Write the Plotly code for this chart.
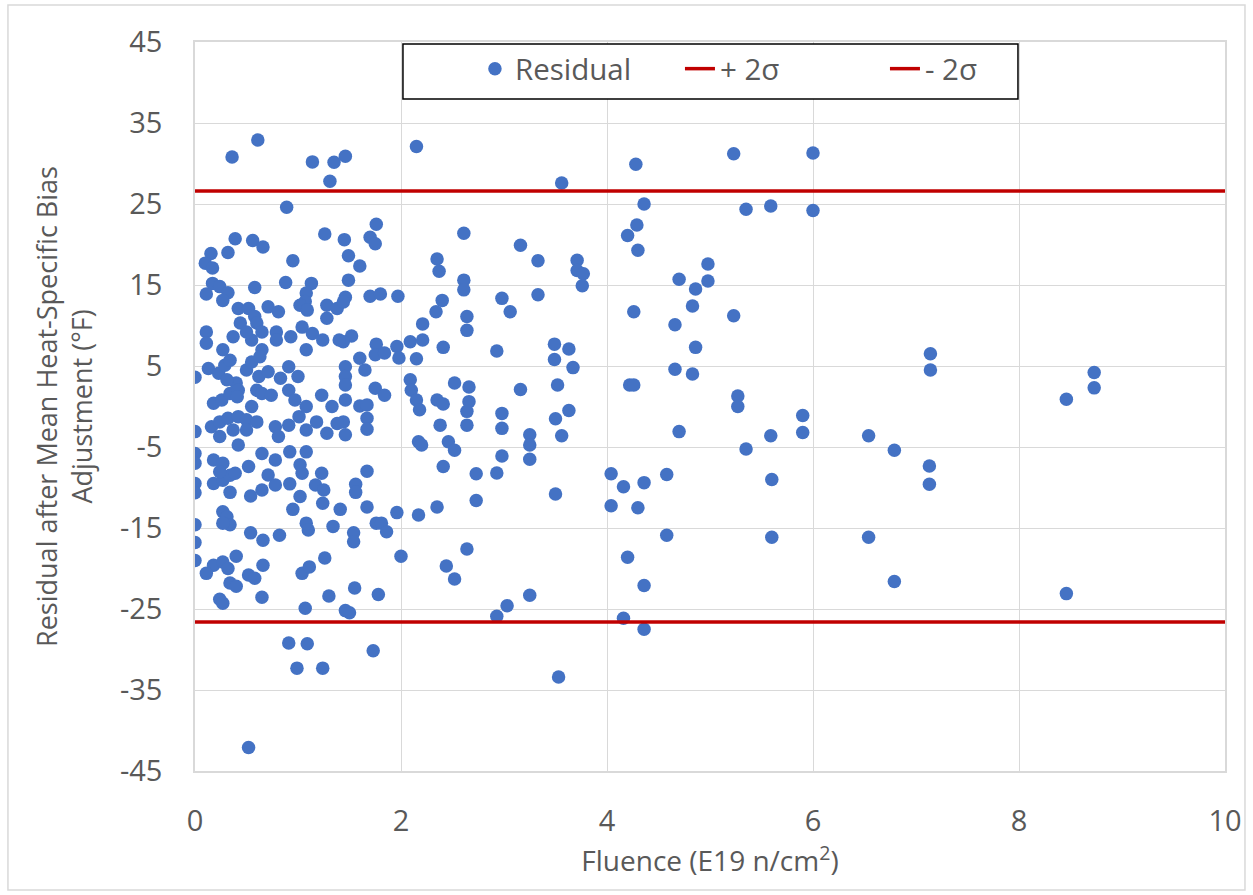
import plotly.graph_objects as go

# Residual data: fluence (E19 n/cm^2) and residual (°F)
fluence = [
    # sparse region
    3.56, 4.28, 5.23, 6.00, 4.36, 5.35, 5.59, 6.00, 4.29, 4.20, 4.30, 3.16, 3.33, 3.71, 3.71, 3.77, 3.76, 3.33, 3.06,
    4.98, 4.70, 4.98, 4.86, 4.83, 4.26, 4.66, 5.23, 3.49, 3.63, 3.49, 3.67, 3.52, 3.16, 4.86, 4.66, 4.83, 4.22, 4.26,
    5.27, 5.27, 5.90, 5.90, 3.50, 3.63, 3.25, 3.56, 4.70, 5.59, 3.25, 3.25, 5.35, 3.50, 4.04, 4.16, 4.36, 4.58, 4.04,
    4.30, 5.60, 4.58, 5.60, 4.20, 4.36, 3.25, 3.03, 4.16, 4.36, 3.53,
    7.14, 7.14, 8.73, 8.73, 8.46, 6.54, 6.79, 7.13, 7.13, 6.54, 6.79, 8.46,
    # upper-left
    0.36, 0.61, 1.14, 1.35, 1.46, 1.31, 0.89, 0.39, 0.56, 0.66, 0.155, 0.32, 0.10, 0.17, 0.95, 1.26, 1.45, 1.49,
    0.17, 0.24, 0.32, 0.11, 0.58, 0.88, 1.13, 1.08, 1.49,
    2.15, 1.76, 1.70, 1.75, 1.60, 2.61, 2.35, 2.37, 2.61, 2.61, 2.98, 1.46, 1.70, 1.80, 1.97, 2.40,
    # middle band 1.4-3
    2.34, 2.64, 2.64, 2.21, 1.52, 1.44, 1.76, 1.75, 1.84, 1.96, 1.98, 2.09, 2.21, 2.15, 2.41, 2.93, 1.60, 1.46, 1.65,
    1.46, 1.46, 2.09, 2.10, 2.15, 2.18, 1.75, 1.84, 2.52, 2.66, 1.46, 1.60, 1.67, 1.67, 1.67, 2.35, 2.41, 2.66, 2.64,
    2.64, 2.98, 2.98, 1.44, 1.46, 2.38, 2.17, 2.20, 2.46, 2.52, 2.98, 1.67, 2.41, 2.73, 2.93,
    # lower band 1.4-3
    1.56, 1.56, 1.41, 1.67, 2.73, 2.35, 1.96, 2.17, 1.76, 1.81, 1.86, 1.54, 1.54, 2.00, 2.64, 2.44, 2.52, 1.55, 1.78,
    1.46, 1.50, 2.93, 1.73,
    # lower-left
    0.00, 0.00, 0.18, 0.27, 0.34, 0.39, 0.34, 0.54, 0.65, 0.78, 0.92, 0.71, 1.02, 0.95, 1.17, 1.25, 1.24, 1.23, 1.04,
    0.27, 0.31, 0.34, 0.27, 0.00, 0.00, 0.00, 0.54, 0.66, 0.82, 1.08, 1.10, 1.34, 0.18, 0.27, 0.32, 0.40, 0.11, 0.52,
    0.58, 0.66, 0.34, 0.40, 0.24, 0.27, 0.65, 1.04, 1.11, 1.26, 1.30, 1.07, 0.91, 1.09, 0.99, 1.24, 0.52,
    # dense centre-left
    0.27, 1.07, 1.02,
    0.42, 0.52, 0.58, 0.71, 0.81, 0.44, 0.60, 1.09, 1.28, 1.38, 1.28, 1.44,
    0.11, 0.11, 0.37, 0.27, 0.55, 0.65, 0.79, 0.79, 0.93, 1.04, 1.14, 1.24, 1.40, 1.08, 0.65, 0.50,
    0.00, 0.13, 0.23, 0.29, 0.34, 0.50, 0.55, 0.63, 0.62, 0.71, 0.83, 0.91, 1.00, 0.40, 0.31,
    0.18, 0.26, 0.34, 0.42, 0.60, 0.65, 0.74, 0.91, 0.97, 1.08, 1.23, 1.33, 0.55, 0.41,
    0.00, 0.16, 0.24, 0.32, 0.42, 0.50, 0.60, 0.24, 0.37, 0.50, 0.78, 0.81, 0.91, 1.01, 1.08, 1.18, 1.28, 1.38,
    0.00, 0.00, 0.18, 0.27, 0.42, 0.52, 0.65, 0.78, 0.92, 1.08, 1.02, 0.24,
]
residual = [
    # sparse region
    27.6, 29.9, 31.2, 31.3, 25.0, 24.35, 24.75, 24.2, 22.4, 21.1, 19.3, 19.9, 18.0, 18.05, 16.8, 16.4, 14.9, 13.8, 11.7,
    17.6, 15.7, 15.5, 14.5, 12.4, 11.7, 10.1, 11.2, 7.7, 7.1, 5.8, 4.8, 2.65, 2.1, 7.3, 4.6, 4.0, 2.65, 2.65,
    1.3, 0.0, -1.1, -3.2, -1.5, -0.5, -3.5, -3.6, -3.1, -3.6, -4.75, -6.5, -5.25, -10.8, -8.3, -9.9, -9.4, -8.4, -12.25,
    -12.5, -9.0, -15.9, -16.15, -18.6, -22.1, -23.3, -24.6, -26.15, -27.5, -33.4,
    6.5, 4.5, 4.2, 2.3, 0.9, -3.6, -5.4, -7.35, -9.6, -16.15, -21.6, -23.1,
    # upper-left
    30.8, 32.9, 30.2, 30.15, 30.9, 27.8, 24.6, 20.7, 20.5, 19.7, 18.9, 19.0, 17.7, 17.1, 18.0, 21.3, 20.6, 18.6,
    15.2, 14.8, 14.05, 13.9, 14.7, 15.3, 15.2, 14.0, 15.6,
    32.1, 22.5, 20.9, 20.1, 17.35, 21.4, 18.2, 16.7, 15.6, 14.4, 13.35, 13.5, 13.6, 13.9, 13.6, 13.1,
    # middle band 1.4-3
    11.7, 11.1, 9.4, 10.2, 8.7, 8.0, 7.7, 6.4, 6.6, 7.4, 6.0, 8.0, 8.2, 5.9, 7.3, 6.85, 5.95, 4.9, 4.5,
    3.7, 2.65, 3.3, 2.0, 0.8, -0.4, 2.25, 1.4, 2.9, 2.4, 0.8, 0.05, 0.2, -1.45, -2.8, 0.8, 0.3, 0.6, -0.6,
    -2.3, -0.85, -2.7, -1.9, -3.5, -2.3, -4.35, -4.75, -4.35, -5.4, -6.1, -8.0, -7.4, -8.3, -8.2,
    # lower band 1.4-3
    -9.6, -10.6, -12.7, -12.4, -11.6, -12.4, -13.1, -13.4, -14.4, -14.4, -15.45, -15.6, -16.7, -18.5, -17.6, -19.7, -21.3, -22.4, -23.2,
    -25.2, -25.45, -25.9, -30.15,
    # lower-left
    -9.5, -10.65, -9.5, -9.1, -8.5, -8.25, -10.6, -11.05, -10.3, -9.7, -9.55, -8.45, -11.1, -12.7, -9.7, -10.3, -11.95, -8.25, -8.25,
    -13.0, -13.6, -14.6, -14.4, -14.6, -16.8, -19.0, -15.6, -16.5, -15.9, -14.4, -15.25, -14.8, -19.6, -19.2, -20.0, -18.5, -20.6, -20.8,
    -21.2, -19.6, -21.8, -22.2, -23.8, -24.3, -23.55, -20.6, -19.8, -18.7, -23.4, -24.9, -29.2, -29.3, -32.3, -32.3, -42.1,
    # dense centre-left
    13.1, 12.95, 12.5,
    12.1, 12.1, 11.1, 12.3, 11.7, 10.3, 10.3, 11.9, 12.5, 12.1, 10.9, 12.9,
    9.2, 7.8, 8.6, 7.0, 8.2, 9.2, 9.2, 8.2, 8.6, 9.8, 9.0, 8.2, 8.2, 7.0, 7.0, 9.2,
    3.6, 4.7, 4.1, 5.1, 5.7, 4.5, 5.5, 6.15, 3.7, 4.3, 3.5, 4.9, 3.7, 2.9, 3.3,
    0.4, 0.8, 1.6, 2.0, 2.0, 1.6, 1.4, 2.0, 0.8, 0.0, 1.4, 0.0, 0.0, 1.2,
    -3.1, -2.5, -1.9, -1.45, -1.25, -1.65, -1.9, -3.7, -2.9, -2.9, -2.5, -3.7, -2.3, -1.25, -2.9, -1.9, -3.3, -2.1,
    -5.8, -7.0, -6.6, -7.0, -4.75, -7.4, -5.8, -6.6, -5.6, -5.6, -7.2, -8.05,
]

sigma_x = [0, 10]
plus_2sigma = [26.6, 26.6]
minus_2sigma = [-26.6, -26.6]

x_ticks = [0, 2, 4, 6, 8, 10]
y_ticks = [-45, -35, -25, -15, -5, 5, 15, 25, 35, 45]

BLUE = "#4472C4"
RED = "#C00000"
GREY_TXT = "#595959"
GRID = "#D9D9D9"
FONT = "Open Sans"

fig = go.Figure()
fig.add_trace(go.Scatter(
    x=fluence, y=residual, mode="markers", name="Residual",
    marker=dict(color=BLUE, size=13.5, line=dict(width=0)),
))
fig.add_trace(go.Scatter(
    x=sigma_x, y=plus_2sigma, mode="lines", name="+ 2σ",
    line=dict(color=RED, width=3.5),
))
fig.add_trace(go.Scatter(
    x=sigma_x, y=minus_2sigma, mode="lines", name="- 2σ",
    line=dict(color=RED, width=3.5),
))

fig.update_layout(
    width=1253, height=895,
    margin=dict(l=195, r=28, t=42, b=124),
    paper_bgcolor="white", plot_bgcolor="white",
    font=dict(family=FONT, color=GREY_TXT, size=28),
    showlegend=True,
    legend=dict(
        orientation="h", x=0.2718, xanchor="left", y=0.963, yanchor="middle",
        borderwidth=0, bgcolor="rgba(0,0,0,0)",
        font=dict(size=29.5, color=GREY_TXT, family=FONT),
        entrywidth=160, entrywidthmode="pixels",
    ),
    xaxis=dict(
        range=[0, 10], tickvals=x_ticks, ticktext=[str(v) for v in x_ticks],
        showgrid=True, gridcolor=GRID, gridwidth=1.3,
        showline=True, linecolor=GRID, linewidth=1.5, mirror=True,
        zeroline=False, ticks="", tickfont=dict(size=29, color=GREY_TXT),
        ticklabelstandoff=23,
        title=dict(text="Fluence (E19 n/cm<sup>2</sup>)", font=dict(size=28, color=GREY_TXT), standoff=2),
    ),
    yaxis=dict(
        range=[-45, 45], tickvals=y_ticks, ticktext=[str(v) for v in y_ticks],
        showgrid=True, gridcolor=GRID, gridwidth=1.3,
        showline=True, linecolor=GRID, linewidth=1.5, mirror=True,
        zeroline=False, ticks="", tickfont=dict(size=29, color=GREY_TXT),
        ticklabelstandoff=25,
        title=dict(text="Residual after Mean Heat-Specific Bias<br>Adjustment (°F)",
                   font=dict(size=27, color=GREY_TXT), standoff=19),
    ),
)

# legend frame
fig.add_shape(type="rect", xref="paper", yref="paper",
              x0=0.2019, x1=0.799, y0=0.9218, y1=0.9973,
              line=dict(color="black", width=1.5), fillcolor="white", layer="above")

# light outer chart border
fig.add_shape(type="rect", xref="paper", yref="paper",
              x0=-0.1816, x1=1.0194, y0=-0.1632, y1=1.0508,
              line=dict(color="#D9D9D9", width=1.5), fillcolor="rgba(0,0,0,0)", layer="below")

fig.write_html("out.html", config={"displayModeBar": False},
               post_script="document.body.style.margin='0px';")
